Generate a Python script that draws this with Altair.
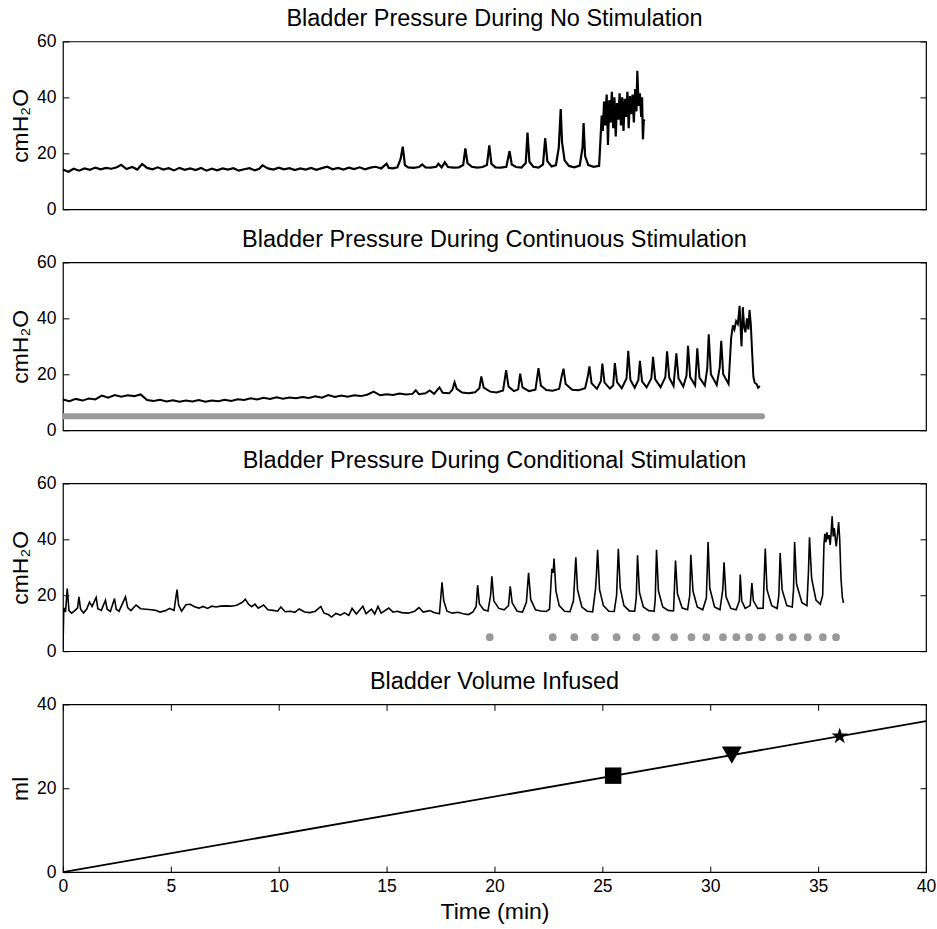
import altair as alt
import pandas as pd

# ---------------- data ----------------
TITLES = [
    "Bladder Pressure During No Stimulation",
    "Bladder Pressure During Continuous Stimulation",
    "Bladder Pressure During Conditional Stimulation",
    "Bladder Volume Infused",
]

# (time in min, pressure in cmH2O)
NO_STIM = [
    (0.00,14.2),(0.25,13.4),(0.50,14.5),(0.75,13.8),(1.00,14.6),(1.25,14.1),(1.50,14.9),(1.75,14.3),
    (2.00,14.8),(2.25,14.5),(2.50,15.0),(2.70,15.9),(2.95,14.4),(3.20,15.1),(3.45,14.2),(3.67,16.2),
    (3.90,14.8),(4.15,14.3),(4.40,15.0),(4.65,14.2),(4.90,14.7),(5.15,13.9),(5.40,14.8),(5.65,14.1),
    (5.90,14.6),(6.15,14.0),(6.40,14.8),(6.65,13.8),(6.90,14.5),(7.15,13.9),(7.40,14.6),(7.65,14.2),
    (7.90,14.7),(8.15,13.8),(8.40,14.3),(8.65,14.7),(8.90,13.9),(9.10,14.5),(9.25,15.7),(9.50,14.6),
    (9.75,14.2),(10.00,14.9),(10.25,14.3),(10.50,14.7),(10.75,14.0),(11.00,14.6),(11.25,14.2),(11.50,14.8),
    (11.75,14.1),(12.00,14.7),(12.25,15.2),(12.50,14.3),(12.75,14.8),(13.00,14.2),(13.25,14.9),(13.50,14.4),
    (13.75,15.0),(14.00,14.3),(14.25,14.9),(14.50,15.2),(14.75,14.6),(15.00,16.3),(15.10,14.8),(15.30,14.6),
    (15.50,15.0),(15.65,18.0),(15.75,22.4),(15.85,15.8),(16.00,15.0),(16.25,14.8),(16.50,15.1),(16.65,16.0),
    (16.80,15.0),(17.05,14.9),(17.30,15.2),(17.40,16.3),(17.55,15.0),(17.70,16.8),(17.85,15.1),(18.10,14.9),
    (18.35,15.0),(18.55,15.8),(18.65,21.8),(18.75,16.5),(18.95,15.2),(19.20,14.9),(19.45,15.1),(19.65,15.8),
    (19.76,22.8),(19.86,16.2),(20.05,15.0),(20.30,14.9),(20.55,15.2),(20.70,20.8),(20.80,16.0),(21.00,15.1),
    (21.25,14.9),(21.45,16.5),(21.53,27.4),(21.62,17.0),(21.80,15.2),(22.05,14.9),(22.25,16.0),(22.35,25.4),
    (22.45,17.2),(22.65,15.3),(22.85,15.8),(22.98,22.0),(23.07,35.8),(23.13,24.0),(23.25,17.5),(23.45,15.5),
    (23.70,15.0),(23.95,15.6),(24.08,22.0),(24.13,30.8),(24.20,19.0),(24.35,15.8),(24.60,15.2),(24.85,15.5),
    (24.97,33.5),(25.02,28.0),(25.08,38.5),(25.13,30.0),(25.20,41.0),(25.26,23.0),(25.32,39.0),(25.38,31.0),
    (25.44,42.0),(25.50,29.0),(25.56,40.0),(25.62,26.0),(25.68,38.0),(25.74,32.0),(25.80,41.5),(25.86,30.0),
    (25.92,40.0),(25.98,28.0),(26.04,39.5),(26.10,33.0),(26.16,42.0),(26.22,29.0),(26.28,40.5),(26.34,34.0),
    (26.40,41.0),(26.46,31.0),(26.52,43.0),(26.58,35.0),(26.62,49.5),(26.68,37.0),(26.74,41.5),(26.80,33.0),
    (26.84,40.0),(26.88,25.0),(26.92,32.0),(26.95,31.5),
]

CONTINUOUS = [
    (0.0,11.0),(0.3,10.4),(0.6,11.2),(0.9,10.6),(1.2,11.3),(1.5,11.0),(1.8,12.4),(2.1,11.6),(2.4,12.6),
    (2.7,12.0),(3.0,12.5),(3.3,12.2),(3.6,12.8),(3.9,10.8),(4.2,10.5),(4.5,10.9),(4.8,10.3),(5.1,10.7),
    (5.4,10.2),(5.7,10.6),(6.0,10.3),(6.3,10.8),(6.6,10.2),(6.9,10.6),(7.2,10.4),(7.5,10.9),(7.8,10.5),
    (8.1,11.1),(8.4,10.8),(8.7,11.4),(9.0,11.0),(9.3,11.6),(9.6,11.2),(9.9,11.8),(10.2,11.3),(10.5,11.7),
    (10.8,11.4),(11.1,11.9),(11.4,11.5),(11.7,12.1),(12.0,11.6),(12.3,12.6),(12.6,11.9),(12.9,12.4),
    (13.2,12.0),(13.5,12.5),(13.8,12.2),(14.1,12.7),(14.4,13.8),(14.7,12.5),(15.0,12.9),(15.3,12.6),
    (15.6,13.1),(15.9,12.8),(16.2,13.0),(16.35,14.3),(16.5,12.9),(16.8,13.2),(17.0,14.2),(17.2,13.0),
    (17.45,15.3),(17.6,13.4),(17.9,13.2),(18.05,14.5),(18.15,17.2),(18.25,14.8),(18.5,13.5),(18.8,13.2),
    (19.1,13.6),(19.3,15.0),(19.39,19.2),(19.5,15.2),(19.8,13.8),(20.1,13.5),(20.4,14.2),(20.54,21.5),
    (20.65,15.6),(20.9,14.0),(21.1,14.6),(21.19,20.2),(21.3,15.3),(21.6,14.0),(21.9,14.5),(22.04,22.2),
    (22.15,16.0),(22.4,14.4),(22.7,14.1),(23.0,14.8),(23.12,19.5),(23.2,22.0),(23.3,16.5),(23.6,14.5),
    (23.9,14.3),(24.2,15.0),(24.32,19.0),(24.4,22.8),(24.5,16.8),(24.75,14.8),(24.93,17.5),(25.0,23.8),
    (25.1,17.0),(25.35,14.9),(25.5,16.0),(25.58,24.0),(25.68,17.2),(25.9,15.0),(26.12,18.5),(26.2,28.4),
    (26.3,18.0),(26.5,15.2),(26.67,18.0),(26.74,24.8),(26.84,17.5),(27.05,15.3),(27.27,18.5),(27.35,26.2),
    (27.45,18.2),(27.7,15.4),(27.92,19.0),(28.0,28.2),(28.1,18.8),(28.3,15.8),(28.43,27.5),(28.53,18.5),
    (28.75,15.6),(28.9,19.5),(28.97,30.2),(29.07,19.0),(29.3,16.0),(29.4,29.3),(29.5,18.8),(29.75,16.0),
    (29.86,22.0),(29.93,34.3),(30.03,20.0),(30.3,16.2),(30.44,22.5),(30.51,32.0),(30.6,20.0),(30.85,16.5),
    (30.97,33.0),(31.05,37.5),(31.12,36.0),(31.2,39.0),(31.28,38.0),(31.36,44.5),(31.41,36.0),(31.45,30.0),
    (31.51,44.0),(31.57,37.0),(31.63,35.0),(31.7,40.0),(31.77,36.0),(31.82,43.0),(31.88,38.0),(31.94,28.0),
    (32.0,19.0),(32.06,17.0),(32.15,16.5),(32.22,15.2),(32.3,15.8),
]

CONDITIONAL = [
    (0.00,0.5),(0.04,15.5),(0.12,14.0),(0.20,22.4),(0.28,14.5),(0.40,13.6),(0.55,14.5),(0.68,15.5),
    (0.74,19.4),(0.82,15.0),(0.95,13.7),(1.10,15.0),(1.23,17.6),(1.35,16.0),(1.54,19.2),(1.62,15.2),
    (1.78,14.6),(1.97,18.2),(2.05,15.0),(2.20,14.2),(2.39,18.8),(2.47,15.0),(2.60,14.3),(2.90,19.4),
    (3.00,15.6),(3.15,14.5),(3.39,16.5),(3.60,15.2),(3.85,15.0),(4.10,14.8),(4.30,14.6),(4.50,14.0),
    (4.75,14.5),(4.95,15.3),(5.15,14.6),(5.24,19.5),(5.29,22.0),(5.36,16.5),(5.50,14.3),(5.70,16.6),
    (5.90,16.8),(6.10,15.9),(6.30,15.4),(6.50,16.0),(6.70,15.3),(6.90,16.1),(7.10,15.8),(7.30,16.1),
    (7.55,16.2),(7.80,16.1),(8.05,16.4),(8.30,17.4),(8.45,18.6),(8.60,16.8),(8.75,15.9),(8.90,16.8),
    (9.05,15.4),(9.30,16.5),(9.50,14.8),(9.75,14.6),(9.95,14.3),(10.10,15.8),(10.30,14.1),(10.55,14.3),
    (10.75,13.9),(10.95,15.1),(11.20,14.0),(11.45,13.8),(11.70,14.3),(11.95,16.0),(12.10,13.6),(12.30,13.1),
    (12.45,12.2),(12.65,13.5),(12.85,12.9),(13.05,13.7),(13.25,12.8),(13.40,15.3),(13.60,13.3),(13.90,16.1),
    (14.05,13.4),(14.30,15.0),(14.45,13.3),(14.60,16.0),(14.75,13.6),(15.10,15.4),(15.30,14.0),(15.50,14.3),
    (15.70,13.8),(16.00,13.6),(16.30,14.3),(16.50,15.6),(16.70,14.0),(17.00,14.5),(17.20,13.8),(17.45,13.4),
    (17.52,20.0),(17.57,24.6),(17.65,18.0),(17.80,14.3),(18.05,13.6),(18.30,13.9),(18.55,13.4),(18.80,13.1),
    (19.00,14.0),(19.15,16.0),(19.22,23.6),(19.30,17.0),(19.50,14.8),(19.70,14.4),(19.82,20.0),(19.88,26.8),
    (19.97,18.0),(20.20,15.3),(20.45,14.8),(20.65,16.3),(20.73,23.2),(20.82,17.3),(21.05,14.3),(21.30,14.0),
    (21.48,17.5),(21.58,28.0),(21.68,18.5),(21.90,14.8),(22.15,14.4),(22.40,14.2),(22.55,15.0),(22.66,29.5),
    (22.72,28.0),(22.76,33.1),(22.85,21.5),(23.00,16.3),(23.25,14.3),(23.50,14.1),(23.66,18.0),(23.77,33.6),
    (23.85,22.0),(24.05,15.8),(24.30,14.3),(24.55,14.1),(24.68,22.0),(24.72,26.5),(24.78,36.3),(24.87,22.0),
    (25.05,16.3),(25.30,14.3),(25.55,14.2),(25.66,20.0),(25.74,36.6),(25.83,22.5),(26.00,16.3),(26.25,14.4),
    (26.50,14.3),(26.57,19.0),(26.63,34.3),(26.72,21.0),(26.90,15.8),(27.15,14.5),(27.40,14.3),(27.45,18.5),
    (27.51,36.3),(27.60,21.5),(27.80,15.8),(28.05,14.6),(28.30,14.4),(28.39,32.4),(28.48,20.5),(28.70,15.4),
    (28.95,14.8),(29.05,20.0),(29.10,34.5),(29.20,21.5),(29.40,15.8),(29.65,14.8),(29.82,19.0),(29.90,39.0),
    (29.98,22.5),(30.20,15.8),(30.45,14.8),(30.58,22.0),(30.64,31.8),(30.73,19.5),(30.95,15.3),(31.20,14.8),
    (31.35,18.0),(31.39,27.4),(31.46,18.0),(31.62,15.3),(31.85,16.3),(31.93,24.4),(32.00,18.0),(32.20,15.3),
    (32.45,15.4),(32.55,36.7),(32.63,22.0),(32.85,16.3),(33.10,15.3),(33.18,20.0),(33.24,35.1),(33.33,22.0),
    (33.55,16.3),(33.80,15.8),(33.86,22.0),(33.91,39.0),(34.00,24.0),(34.25,17.3),(34.48,16.3),(34.55,28.0),
    (34.60,40.7),(34.70,26.0),(34.90,18.3),(35.10,16.8),(35.21,20.0),(35.27,38.0),(35.31,42.0),(35.36,39.0),
    (35.41,42.5),(35.46,40.0),(35.51,41.5),(35.56,38.0),(35.61,43.0),(35.65,48.2),(35.70,41.0),(35.75,44.0),
    (35.80,40.0),(35.84,37.5),(35.90,42.0),(35.95,46.2),(36.00,40.0),(36.06,26.0),(36.12,19.5),(36.17,17.3),
]

# continuous stimulation bar (start, end, level)
CONT_STIM_START = [0.0]
CONT_STIM_END = [32.4]
CONT_STIM_LEVEL = [5]

# conditional stimulation events
COND_STIM_TIMES = [19.78, 22.70, 23.70, 24.66, 25.66, 26.58, 27.48, 28.33, 29.13, 29.82,
                   30.59, 31.21, 31.80, 32.40, 33.21, 33.83, 34.52, 35.22, 35.83]
COND_STIM_LEVEL = 5

# bladder volume infused
VOL_T = [0, 40]
VOL_ML = [0, 36]
MARK_T = [25.5, 31.0, 36.0]
MARK_ML = [23.0, 27.9, 32.4]

X_TICKS = [0, 5, 10, 15, 20, 25, 30, 35, 40]
P_TICKS = [0, 20, 40, 60]
V_TICKS = [0, 20, 40]

# ---------------- styling ----------------
FONT = "Liberation Sans"
W, H = 864, 168
GRAY = "#999999"
STAR = ("M0,-1L0.2245,-0.309L0.951,-0.309L0.363,0.118L0.588,0.809L0,0.382"
        "L-0.588,0.809L-0.363,0.118L-0.951,-0.309L-0.2245,-0.309Z")
TICK = 6

xscale = alt.Scale(domain=[0, 40], nice=False, zero=False)
pscale = alt.Scale(domain=[0, 60], nice=False)
vscale = alt.Scale(domain=[0, 40], nice=False)


def y_label_axis(values, title):
    return alt.Axis(orient="left", values=values, ticks=False, tickSize=0, domain=False,
                    grid=False, labelPadding=7, title=title, titlePadding=4)


def y_tick_axis(orient, values):
    return alt.Axis(orient=orient, values=values, offset=-TICK, tickSize=TICK, labels=False,
                    domain=False, grid=False, title=None)


def x_tick_axis(orient):
    return alt.Axis(orient=orient, values=X_TICKS, offset=-TICK, tickSize=TICK, labels=False,
                    domain=False, grid=False, title=None)


def pressure_panel(pairs, title, extras, width):
    df = pd.DataFrame(pairs, columns=["t", "p"])
    base = alt.Chart(df)
    line = base.mark_line(color="black", strokeWidth=width, clip=True).encode(
        x=alt.X("t:Q", scale=xscale, axis=None),
        y=alt.Y("p:Q", scale=pscale, axis=y_label_axis(P_TICKS, "cmH₂O")),
    )
    lt = base.mark_line(opacity=0).encode(
        x=alt.X("t:Q", scale=xscale, axis=None),
        y=alt.Y("p:Q", scale=pscale, axis=y_tick_axis("left", P_TICKS)),
    )
    rt = base.mark_line(opacity=0).encode(
        x=alt.X("t:Q", scale=xscale, axis=None),
        y=alt.Y("p:Q", scale=pscale, axis=y_tick_axis("right", P_TICKS)),
    )
    return alt.layer(*extras, line, lt, rt).resolve_axis(y="independent").properties(
        width=W, height=H, title=alt.TitleParams(text=title))


# panel 1
p1 = pressure_panel(NO_STIM, TITLES[0], [], 2.2)

# panel 2 with continuous stimulation bar
bar_df = pd.DataFrame({"t": CONT_STIM_START, "t2": CONT_STIM_END, "p": CONT_STIM_LEVEL})
bar = alt.Chart(bar_df).mark_rule(color=GRAY, strokeWidth=6, strokeCap="round", clip=True).encode(
    x=alt.X("t:Q", scale=xscale, axis=None),
    x2="t2:Q",
    y=alt.Y("p:Q", scale=pscale, axis=None),
)
p2 = pressure_panel(CONTINUOUS, TITLES[1], [bar], 2.0)

# panel 3 with conditional stimulation dots
dots_df = pd.DataFrame({"t": COND_STIM_TIMES, "p": [COND_STIM_LEVEL] * len(COND_STIM_TIMES)})
dots = alt.Chart(dots_df).mark_circle(color=GRAY, size=60, opacity=1).encode(
    x=alt.X("t:Q", scale=xscale, axis=None),
    y=alt.Y("p:Q", scale=pscale, axis=None),
)
p3 = pressure_panel(CONDITIONAL, TITLES[2], [dots], 1.6)

# panel 4: volume infused
vol_df = pd.DataFrame({"t": VOL_T, "v": VOL_ML})
vbase = alt.Chart(vol_df)
vline = vbase.mark_line(color="black", strokeWidth=1.8).encode(
    x=alt.X("t:Q", scale=xscale,
            axis=alt.Axis(orient="bottom", values=X_TICKS, ticks=False, tickSize=0, domain=False,
                          grid=False, labelPadding=5, labelFlush=False, labelOverlap=False,
                          title="Time (min)", titlePadding=6)),
    y=alt.Y("v:Q", scale=vscale, axis=y_label_axis(V_TICKS, "ml")),
)
vt1 = vbase.mark_line(opacity=0).encode(
    x=alt.X("t:Q", scale=xscale, axis=x_tick_axis("bottom")),
    y=alt.Y("v:Q", scale=vscale, axis=y_tick_axis("left", V_TICKS)),
)
vt2 = vbase.mark_line(opacity=0).encode(
    x=alt.X("t:Q", scale=xscale, axis=x_tick_axis("top")),
    y=alt.Y("v:Q", scale=vscale, axis=y_tick_axis("right", V_TICKS)),
)
marker_layers = []
for i, (shape, size) in enumerate([("square", 270), ("triangle-down", 400), (STAR, 300)]):
    mdf = pd.DataFrame({"t": [MARK_T[i]], "v": [MARK_ML[i]]})
    marker_layers.append(
        alt.Chart(mdf).mark_point(shape=shape, size=size, filled=True, color="black", opacity=1).encode(
            x=alt.X("t:Q", scale=xscale, axis=None),
            y=alt.Y("v:Q", scale=vscale, axis=None),
        )
    )
p4 = alt.layer(vline, vt1, vt2, *marker_layers).resolve_axis(x="independent", y="independent").properties(
    width=W, height=H, title=alt.TitleParams(text=TITLES[3]))

chart = (
    alt.vconcat(p1, p2, p3, p4, spacing=7.2)
    .properties(padding={"left": 8, "top": 5, "right": 0, "bottom": 1}, background="white")
    .configure(font=FONT)
    .configure_view(stroke="black", strokeWidth=1.2)
    .configure_axis(labelFont=FONT, labelFontSize=17.5, labelColor="black", titleFont=FONT,
                    titleFontSize=23, titleFontWeight="normal", titleColor="black",
                    tickColor="black", tickWidth=1)
    .configure_title(font=FONT, fontSize=23.5, fontWeight="normal", color="black",
                     offset=2, baseline="alphabetic", anchor="middle")
)

chart.save("out.html", embed_options={"renderer": "svg", "actions": False})
